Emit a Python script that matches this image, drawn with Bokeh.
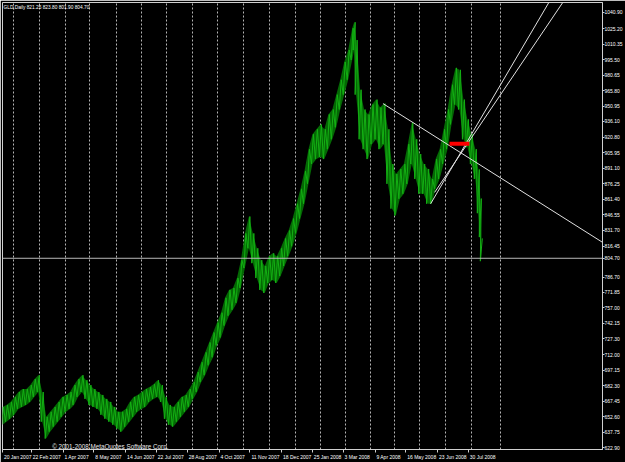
from bokeh.plotting import figure
from bokeh.models import Range1d, FixedTicker, ColumnDataSource, Label, Span, NumeralTickFormatter
from bokeh.embed import file_html
from bokeh.resources import INLINE

# ---------------- data ----------------
title_text = "GLD,Daily  821.25 823.80 801.90 804.70"
copyright_text = "\u00a9 2001-2008 MetaQuotes Software Corp."

bars = [0, 4, 8, 12, 16, 20, 24, 28, 32, 36, 40, 44, 48, 52, 56, 60, 64, 68, 72, 76,
        80, 84, 88, 92, 96, 100, 104, 108, 112, 116, 120, 124, 128, 132, 136, 140, 144, 148, 152, 156,
        160, 164, 168, 172, 176, 180, 184, 188, 192, 196, 200, 204, 208, 212, 216, 220, 224, 228, 232, 236,
        240, 244, 248, 252, 256, 260, 264, 268, 272, 276, 280, 284, 288, 292, 296, 300, 304, 308, 312, 316,
        320, 324, 328, 332, 336, 340, 344, 348, 352, 354, 356, 360, 364, 368, 372, 376, 380, 384, 388, 392,
        396, 400, 404, 408, 412, 416, 420, 424, 428, 432, 436, 440, 444, 448, 452, 456, 460, 464, 468, 472,
        476, 479, 481, 482]
highs = [661.9, 663.8, 666.7, 671.5, 676.2, 679.1, 679.1, 682.9, 688.6, 692.4, 676.2, 652.4, 657.2, 661.9, 666.7, 671.5, 673.4, 676.2, 682.9, 688.6,
         692.4, 687.6, 682.9, 679.1, 676.2, 673.4, 669.6, 666.7, 661.9, 657.2, 657.2, 660.0, 666.7, 671.5, 673.4, 676.2, 679.1, 681.0, 683.8, 687.6,
         682.9, 671.5, 663.8, 661.9, 666.7, 671.5, 673.4, 679.1, 685.7, 695.3, 704.8, 714.3, 723.8, 733.4, 742.9, 752.4, 766.7, 774.3, 776.2, 785.7,
         802.9, 828.6, 844.8, 828.6, 814.3, 802.9, 797.2, 806.7, 809.5, 806.7, 814.3, 823.8, 831.4, 842.9, 857.1, 871.4, 888.6, 909.5, 923.8, 928.6,
         933.3, 928.6, 942.8, 947.6, 961.9, 976.2, 993.3, 1004.7, 1025.7, 1031.4, 1014.3, 966.6, 947.6, 942.8, 952.4, 957.1, 949.5, 953.3, 928.6, 895.2,
         885.7, 890.5, 895.2, 914.3, 935.2, 919.0, 904.8, 895.2, 890.5, 880.9, 900.0, 909.5, 928.6, 947.6, 971.4, 987.6, 985.7, 957.1, 938.1, 923.8,
         909.5, 890.0, 862.0, 823.8]
lows = [644.8, 647.7, 650.5, 654.3, 660.0, 661.9, 663.8, 666.7, 671.5, 676.2, 647.7, 631.5, 638.1, 642.9, 647.7, 652.4, 657.2, 660.0, 663.8, 671.5,
        676.2, 669.6, 663.8, 661.9, 660.0, 654.3, 650.5, 647.7, 644.8, 641.0, 638.1, 642.9, 647.7, 652.4, 657.2, 660.0, 661.9, 666.7, 669.6, 671.5,
        666.7, 650.5, 644.8, 642.9, 647.7, 652.4, 657.2, 661.9, 669.6, 676.2, 685.7, 692.4, 701.9, 709.6, 721.0, 728.6, 740.0, 749.5, 755.3, 761.9,
        776.2, 795.3, 814.3, 800.0, 785.7, 774.3, 771.4, 781.0, 783.8, 781.0, 787.6, 797.2, 806.7, 816.2, 828.6, 842.9, 857.1, 876.2, 895.2, 900.0,
        901.9, 900.0, 909.5, 919.0, 930.5, 947.6, 961.9, 976.2, 995.2, 1004.7, 961.9, 919.0, 909.5, 900.0, 914.3, 919.0, 909.5, 914.3, 876.2, 852.4,
        845.7, 861.9, 866.7, 876.2, 895.2, 880.9, 866.7, 866.7, 857.1, 857.1, 871.4, 880.9, 895.2, 909.5, 933.3, 952.4, 947.6, 919.0, 911.4, 895.2,
        880.9, 848.0, 825.0, 801.9]
last_close = 804.70

date_tick_bars = [0, 29, 61, 92, 124, 155, 186, 218, 249, 281, 312, 343, 375, 406, 438, 469]
date_tick_labels = ["20 Jan 2007", "22 Feb 2007", "1 Apr 2007", "8 May 2007", "14 Jun 2007",
                    "22 Jul 2007", "28 Aug 2007", "4 Oct 2007", "11 Nov 2007", "18 Dec 2007",
                    "25 Jan 2008", "3 Mar 2008", "9 Apr 2008", "16 May 2008", "23 Jun 2008", "30 Jul 2008"]
month_grid_bars = [11, 37, 63, 88, 115, 140, 165, 191, 216, 243, 269, 295, 320, 345, 370, 395,
                   420, 446, 472, 501]
price_ticks = [622.90, 637.75, 652.60, 667.45, 682.30, 697.15, 712.00, 727.30, 742.15, 757.00,
               771.85, 786.70, 804.70, 816.45, 831.70, 846.55, 861.40, 876.25, 891.10, 905.95,
               920.80, 936.10, 950.95, 965.80, 980.65, 995.50, 1010.35, 1025.20, 1040.90]

# drawn objects (anchor points in bar / price units)
down_line_bars = [383, 604]
down_line_prices = [953.3, 820.0]
channel1_bars = [431, 550]
channel1_prices = [857.1, 1050.4]
channel2_bars = [435, 564]
channel2_prices = [868.0, 1050.4]
red_bars = [450, 470]
red_prices = [914.7, 914.7]

# ---------------- layout helpers ----------------
FONT = "Liberation Sans"
AXIS_PX = 5.0
_W = {" ": .278, ",": .278, ".": .278, "-": .333, "A": .667, "F": .611, "J": .5, "M": .833,
      "N": .722, "O": .778, "D": .722, "a": .556, "b": .556, "c": .5, "e": .556, "g": .556,
      "l": .222, "n": .556, "o": .556, "p": .556, "r": .333, "t": .278, "u": .556, "v": .5, "y": .5}


def text_width(s, px):
    return sum(_W.get(ch, .556) for ch in s) * px


label_centers = []
for b, lab in zip(date_tick_bars, date_tick_labels):
    c = round(b + 1.5 + text_width(lab, AXIS_PX) / 2.0, 1)
    label_centers.append(int(c) if c == int(c) else c)

# each bar's range is stroked low -> high, joined to the next one (dense bar-chart look)
zig_x, zig_y = [], []
for b, lo, hi in zip(bars, lows, highs):
    zig_x += [b - 1, b + 1]
    zig_y += [lo, hi]

# ---------------- figure ----------------
p = figure(width=625, height=462, output_backend="svg", toolbar_location=None,
           x_range=Range1d(0, 604), y_range=Range1d(621.0, 1050.4),
           y_axis_location="right",
           background_fill_color="black", border_fill_color="black",
           min_border_left=2, min_border_top=2, min_border_right=0, min_border_bottom=0)
p.outline_line_color = "#d0d0d0"
p.ygrid.visible = False
p.xgrid.ticker = FixedTicker(ticks=month_grid_bars)
p.xgrid.grid_line_color = "#b4b4b4"
p.xgrid.grid_line_dash = "2 2"
p.xgrid.grid_line_width = 1

xa = p.xaxis[0]
xa.ticker = FixedTicker(ticks=label_centers, minor_ticks=date_tick_bars)
xa.major_label_overrides = {c: l for c, l in zip(label_centers, date_tick_labels)}
xa.major_label_text_font = FONT
xa.major_label_text_font_size = "%.1fpx" % AXIS_PX
xa.major_label_text_color = "white"
xa.major_label_standoff = 1
xa.major_tick_out = 0
xa.major_tick_in = 0
xa.minor_tick_out = 3
xa.minor_tick_in = 0
xa.minor_tick_line_color = "#d0d0d0"
xa.axis_line_color = "#d0d0d0"

ya = p.yaxis[0]
ya.ticker = FixedTicker(ticks=price_ticks)
ya.formatter = NumeralTickFormatter(format="0.00")
ya.major_label_text_font = FONT
ya.major_label_text_font_size = "%.1fpx" % AXIS_PX
ya.major_label_text_color = "white"
ya.major_label_standoff = 0
ya.major_tick_out = 2
ya.major_tick_in = 0
ya.minor_tick_out = 0
ya.minor_tick_in = 0
ya.major_tick_line_color = "#d0d0d0"
ya.axis_line_color = "#d0d0d0"

src = ColumnDataSource(data=dict(x=bars, hi=highs, lo=lows))
p.varea(x="x", y1="lo", y2="hi", source=src, fill_color="#046804")
p.line(zig_x, zig_y, line_color="#14b014", line_width=1)

p.add_layout(Span(location=last_close, dimension="width", line_color="#b8b8b8", line_width=1))

p.line(down_line_bars, down_line_prices, line_color="#e0e0e0", line_width=1)
p.line(channel1_bars, channel1_prices, line_color="#e0e0e0", line_width=1)
p.line(channel2_bars, channel2_prices, line_color="#e0e0e0", line_width=1)
p.line(red_bars, red_prices, line_color="red", line_width=4)

p.add_layout(Label(x=1, y=1050.4, text=title_text, text_font=FONT, text_font_size="4.8px",
                   text_color="white", text_baseline="top", y_offset=-2))
p.add_layout(Label(x=50, y=621.0, text=copyright_text, text_font=FONT, text_font_size="6.3px",
                   text_color="#e8e8e8", text_baseline="bottom", y_offset=0))

open("out.html", "w").write(file_html(p, INLINE))
